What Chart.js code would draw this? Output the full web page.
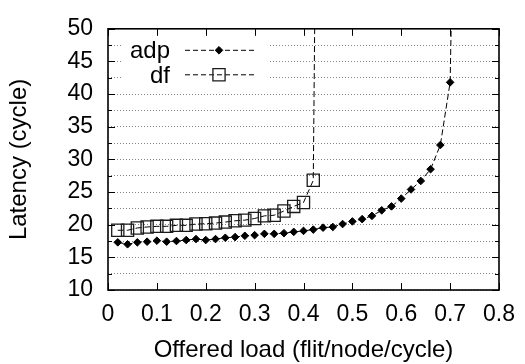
<!DOCTYPE html>
<html>
<head>
<meta charset="utf-8">
<script src="https://cdn.jsdelivr.net/npm/chart.js@4.4.1/dist/chart.umd.min.js"></script>
<style>
  html, body { margin: 0; padding: 0; background: #fff; }
  #wrap { width: 525px; height: 364px; }
</style>
</head>
<body>
<div id="wrap"><canvas id="chart" width="525" height="364"></canvas></div>
<script>
// Offered load (flit/node/cycle) and average latency (cycles) per routing scheme.
// The last point of each series is the saturated latency just past the knee.
const adpLoads = [0.02, 0.04, 0.06, 0.08, 0.10, 0.12, 0.14, 0.16, 0.18, 0.20,
                  0.22, 0.24, 0.26, 0.28, 0.30, 0.32, 0.34, 0.36, 0.38, 0.40,
                  0.42, 0.44, 0.46, 0.48, 0.50, 0.52, 0.54, 0.56, 0.58, 0.60,
                  0.62, 0.64, 0.66, 0.68, 0.70, 0.72];
const adpLatency = [17.3, 17.0, 17.3, 17.4, 17.55, 17.4, 17.5, 17.65, 17.8, 17.65,
                    17.8, 18.0, 18.1, 18.3, 18.4, 18.6, 18.6, 18.7, 18.9, 19.05,
                    19.25, 19.55, 19.65, 20.1, 20.5, 20.85, 21.35, 22.2, 22.8, 24.0,
                    25.4, 26.7, 28.5, 32.2, 41.8, 122];

const dfLoads = [0.02, 0.04, 0.06, 0.08, 0.10, 0.12, 0.14, 0.16, 0.18, 0.20,
                 0.22, 0.24, 0.26, 0.28, 0.30, 0.32, 0.34, 0.36, 0.38, 0.40,
                 0.42, 0.44];
const dfLatency = [19.15, 19.15, 19.5, 19.65, 19.75, 19.75, 19.9, 19.9, 20.1, 20.15,
                   20.25, 20.4, 20.6, 20.7, 20.95, 21.35, 21.45, 22.1, 22.8, 23.4,
                   26.8, 190];

const seriesNames = ['adp', 'df'];
const xTickLabels = ['0', '0.1', '0.2', '0.3', '0.4', '0.5', '0.6', '0.7', '0.8'];
const yTickLabels = ['10', '15', '20', '25', '30', '35', '40', '45', '50'];

const FONT = "'Liberation Sans', Arial, Helvetica, sans-serif";
const DASH = [6, 3];

function toPoints(xs, ys) {
  return xs.map((x, i) => ({ x: x, y: ys[i] }));
}

// Gnuplot-style markers for the key
function drawMarker(ctx, ds, x, y) {
  ctx.save();
  ctx.setLineDash([]);
  ctx.strokeStyle = ds.pointBorderColor;
  ctx.fillStyle = ds.pointBackgroundColor;
  ctx.lineWidth = ds.pointBorderWidth;
  const r = ds.pointRadius;
  ctx.beginPath();
  if (ds.pointStyle === 'rectRot') {
    ctx.moveTo(x, y - r); ctx.lineTo(x + r, y); ctx.lineTo(x, y + r); ctx.lineTo(x - r, y);
    ctx.closePath();
  } else {
    const s = Math.SQRT1_2 * r;
    ctx.rect(x - s, y - s, 2 * s, 2 * s);
  }
  ctx.fill();
  ctx.stroke();
  ctx.restore();
}

// Frame, inward tics on all four sides, and the key in the upper-left corner
const framePlugin = {
  id: 'frame',
  beforeDatasetsDraw(chart) {
    const ctx = chart.ctx;
    const a = chart.chartArea;
    // key background hides the grid behind it
    ctx.save();
    ctx.fillStyle = '#fff';
    ctx.fillRect(a.left + 14, a.top + 7, 146, 55);
    ctx.font = '24px ' + FONT;
    ctx.fillStyle = '#000';
    ctx.textAlign = 'right';
    ctx.textBaseline = 'alphabetic';
    const rows = [a.top + 21.5, a.top + 46];
    chart.data.datasets.forEach((ds, i) => {
      const y = rows[i];
      ctx.fillText(ds.label, a.left + 62, y + 8);
      ctx.save();
      ctx.strokeStyle = '#000';
      ctx.lineWidth = 1;
      ctx.setLineDash([5, 3]);
      ctx.beginPath();
      ctx.moveTo(a.left + 77, y);
      ctx.lineTo(a.left + 146, y);
      ctx.stroke();
      ctx.restore();
      drawMarker(ctx, ds, a.left + 111, y);
    });
    ctx.restore();
  },
  afterDraw(chart) {
    const ctx = chart.ctx;
    const a = chart.chartArea;
    const xs = chart.scales.x, ys = chart.scales.y;
    ctx.save();
    ctx.strokeStyle = '#000';
    ctx.lineWidth = 1;
    ctx.setLineDash([]);
    ctx.beginPath();
    ys.ticks.forEach(t => {
      const py = Math.round(ys.getPixelForValue(t.value)) + 0.5;
      const major = t.label !== '';
      const len = major ? 7 : 4;
      ctx.moveTo(a.left, py); ctx.lineTo(a.left + len, py);
      ctx.moveTo(a.right, py); ctx.lineTo(a.right - len, py);
    });
    xs.ticks.forEach(t => {
      const px = Math.round(xs.getPixelForValue(t.value)) + 0.5;
      ctx.moveTo(px, a.bottom); ctx.lineTo(px, a.bottom - 7);
      ctx.moveTo(px, a.top); ctx.lineTo(px, a.top + 7);
    });
    ctx.stroke();
    ctx.lineWidth = 1.6;
    ctx.strokeRect(a.left, a.top, a.right - a.left, a.bottom - a.top);
    ctx.restore();
  }
};

new Chart(document.getElementById('chart'), {
  type: 'line',
  data: {
    datasets: [
      {
        label: seriesNames[0],
        data: toPoints(adpLoads, adpLatency),
        borderColor: '#000',
        borderWidth: 1,
        borderDash: DASH,
        pointStyle: 'rectRot',
        pointRadius: 3.8,
        pointBackgroundColor: '#000',
        pointBorderColor: '#000',
        pointBorderWidth: 1,
        fill: false,
        tension: 0
      },
      {
        label: seriesNames[1],
        data: toPoints(dfLoads, dfLatency),
        borderColor: '#000',
        borderWidth: 1,
        borderDash: DASH,
        pointStyle: 'rect',
        pointRadius: 8.6,
        pointBackgroundColor: 'rgba(0,0,0,0)',
        pointBorderColor: '#1a1a1a',
        pointBorderWidth: 1.3,
        fill: false,
        tension: 0
      }
    ]
  },
  options: {
    responsive: false,
    animation: false,
    devicePixelRatio: 1,
    layout: { padding: { top: 17, right: 26, left: 0, bottom: 0 } },
    plugins: { legend: { display: false }, tooltip: { enabled: false } },
    scales: {
      x: {
        type: 'linear',
        min: 0,
        max: 0.8,
        afterFit(scale) { scale.height = 74; },
        grid: { display: false },
        border: { display: false },
        ticks: {
          stepSize: 0.1,
          autoSkip: false,
          maxRotation: 0,
          padding: 3,
          color: '#000',
          font: { family: FONT, size: 23 },
          callback: (v, i) => xTickLabels[i]
        },
        title: {
          display: true,
          text: 'Offered load (flit/node/cycle)',
          color: '#000',
          font: { family: FONT, size: 24 },
          padding: { top: 0, bottom: -1 }
        }
      },
      y: {
        min: 10,
        max: 50,
        afterFit(scale) { scale.width = 108; },
        grid: { color: '#858585', lineWidth: 1, drawTicks: false },
        border: { display: false, dash: [1, 2] },
        ticks: {
          stepSize: 2.5,
          autoSkip: false,
          padding: 15,
          color: '#000',
          font: { family: FONT, size: 23 },
          callback: (v) => {
            const lbl = yTickLabels.find(t => Math.abs(Number(t) - v) < 1e-6);
            return lbl === undefined ? '' : lbl;
          }
        },
        title: {
          display: true,
          text: 'Latency (cycle)',
          color: '#000',
          font: { family: FONT, size: 24 },
          padding: { top: 5, bottom: 0 }
        }
      }
    }
  },
  plugins: [framePlugin]
});
</script>
</body>
</html>
